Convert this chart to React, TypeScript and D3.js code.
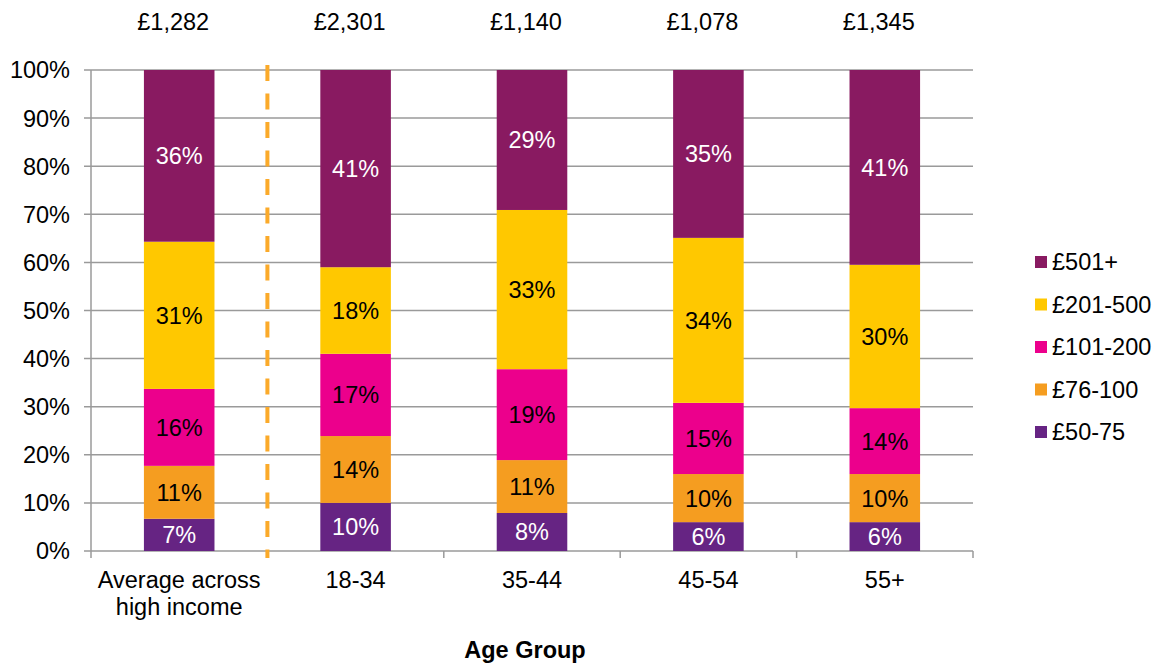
import React, { useRef, useEffect } from "react";
import * as d3 from "d3";

const categories = ["Average across\nhigh income", "18-34", "35-44", "45-54", "55+"];
const totals = ["£1,282", "£2,301", "£1,140", "£1,078", "£1,345"];
const seriesNames = ["£50-75", "£76-100", "£101-200", "£201-500", "£501+"];
const seriesColors = ["#662483", "#F59D20", "#EC008C", "#FFC800", "#891A61"];
const labelColors = ["#ffffff", "#000000", "#000000", "#000000", "#ffffff"];

// share per category, bottom to top
const v50_75 = [6.7, 10, 7.9, 6, 6];
const v76_100 = [11, 13.9, 11, 10, 10];
const v101_200 = [16, 17.1, 18.9, 14.8, 13.7];
const v201_500 = [30.6, 18, 33.1, 34.3, 29.8];
const v501 = [35.7, 41, 29.1, 34.9, 40.5];
const yTicks = [0, 10, 20, 30, 40, 50, 60, 70, 80, 90, 100];

const App = () => {
  const ref = useRef<SVGSVGElement>(null);

  useEffect(() => {
    const width = 1160;
    const height = 666;
    const left = 91;
    const right = 973;
    const top = 70;
    const bottom = 551;
    const font = "'Liberation Sans', Arial, sans-serif";
    const fs = "23.5px";

    const svg = d3.select(ref.current);
    svg.selectAll("*").remove();
    svg.attr("width", width).attr("height", height);

    const rows = categories.map((c, i) => ({
      cat: c,
      vals: [v50_75[i], v76_100[i], v101_200[i], v201_500[i], v501[i]],
    }));

    const x = d3.scaleBand<string>().domain(categories).range([left, right]).paddingInner(0).paddingOuter(0);
    const y = d3.scaleLinear().domain([0, 100]).range([bottom, top]);
    const barW = x.bandwidth() * 0.4;

    // gridlines
    svg
      .append("g")
      .selectAll("line")
      .data(yTicks)
      .enter()
      .append("line")
      .attr("x1", left - 7)
      .attr("x2", right)
      .attr("y1", (d) => y(d))
      .attr("y2", (d) => y(d))
      .attr("stroke", "#9a9a9a")
      .attr("stroke-width", 1.5);

    // y tick labels
    svg
      .append("g")
      .selectAll("text")
      .data(yTicks)
      .enter()
      .append("text")
      .attr("x", 70)
      .attr("y", (d) => y(d))
      .attr("dy", "0.36em")
      .attr("text-anchor", "end")
      .style("font-family", font)
      .style("font-size", fs)
      .text((d) => `${d}%`);

    // axis lines
    svg
      .append("line")
      .attr("x1", left)
      .attr("x2", left)
      .attr("y1", top)
      .attr("y2", bottom + 7)
      .attr("stroke", "#9a9a9a")
      .attr("stroke-width", 1.5);

    const bounds = [...categories.map((c) => x(c)!), right];
    svg
      .append("g")
      .selectAll("line")
      .data(bounds.slice(1))
      .enter()
      .append("line")
      .attr("x1", (d) => d)
      .attr("x2", (d) => d)
      .attr("y1", bottom)
      .attr("y2", bottom + 7)
      .attr("stroke", "#9a9a9a")
      .attr("stroke-width", 1.5);

    // stacked bars
    const stack = d3
      .stack<any>()
      .keys(seriesNames.map((_, i) => String(i)))
      .value((d, key) => d.vals[+key]);
    const stacked = stack(rows);

    stacked.forEach((layer, si) => {
      const g = svg.append("g");
      g.selectAll("rect")
        .data(layer)
        .enter()
        .append("rect")
        .attr("x", (d) => x(d.data.cat)! + (x.bandwidth() - barW) / 2)
        .attr("width", barW)
        .attr("y", (d) => y(Math.min(d[1], 100)))
        .attr("height", (d) => y(d[0]) - y(Math.min(d[1], 100)))
        .attr("fill", seriesColors[si]);
      g.selectAll("text")
        .data(layer)
        .enter()
        .append("text")
        .attr("x", (d) => x(d.data.cat)! + x.bandwidth() / 2)
        .attr("y", (d) => (y(d[0]) + y(Math.min(d[1], 100))) / 2)
        .attr("dy", "0.36em")
        .attr("text-anchor", "middle")
        .style("font-family", font)
        .style("font-size", fs)
        .style("fill", labelColors[si])
        .text((d) => `${Math.round(d.data.vals[si])}%`);
    });

    // dashed separator
    svg
      .append("line")
      .attr("x1", bounds[1])
      .attr("x2", bounds[1])
      .attr("y1", top - 5)
      .attr("y2", bottom + 7)
      .attr("stroke", "#FBAA2A")
      .attr("stroke-width", 4)
      .attr("stroke-dasharray", "16,12.5");

    // totals on top
    svg
      .append("g")
      .selectAll("text")
      .data(categories)
      .enter()
      .append("text")
      .attr("x", (d) => x(d)! + x.bandwidth() / 2 - 6)
      .attr("y", 30)
      .attr("text-anchor", "middle")
      .style("font-family", font)
      .style("font-size", fs)
      .text((d, i) => totals[i]);

    // category labels
    const cl = svg
      .append("g")
      .selectAll("text")
      .data(categories)
      .enter()
      .append("text")
      .attr("x", (d) => x(d)! + x.bandwidth() / 2)
      .attr("y", 588)
      .attr("text-anchor", "middle")
      .style("font-family", font)
      .style("font-size", fs);
    cl.selectAll("tspan")
      .data((d) => d.split("\n"))
      .enter()
      .append("tspan")
      .attr("x", function () {
        return (this as any).parentNode.getAttribute("x");
      })
      .attr("dy", (d, i) => (i === 0 ? 0 : 27))
      .text((d) => d);

    // axis title
    svg
      .append("text")
      .attr("x", 525)
      .attr("y", 658)
      .attr("text-anchor", "middle")
      .style("font-family", font)
      .style("font-size", fs)
      .style("font-weight", "bold")
      .text("Age Group");

    // legend
    const legendY = d3.scalePoint<string>().domain(seriesNames.slice().reverse()).range([262, 432]);
    const lg = svg
      .append("g")
      .selectAll("g")
      .data(seriesNames)
      .enter()
      .append("g")
      .attr("transform", (d) => `translate(1035, ${legendY(d)})`);
    lg.append("rect")
      .attr("x", 0)
      .attr("y", -6)
      .attr("width", 12)
      .attr("height", 12)
      .attr("fill", (d, i) => seriesColors[i]);
    lg.append("text")
      .attr("x", 17)
      .attr("dy", "0.36em")
      .style("font-family", font)
      .style("font-size", fs)
      .text((d) => d);
  }, []);

  return (
    <div style={{ position: "absolute", left: 0, top: 0 }}>
      <svg ref={ref} style={{ display: "block" }}></svg>
    </div>
  );
};

export default App;
